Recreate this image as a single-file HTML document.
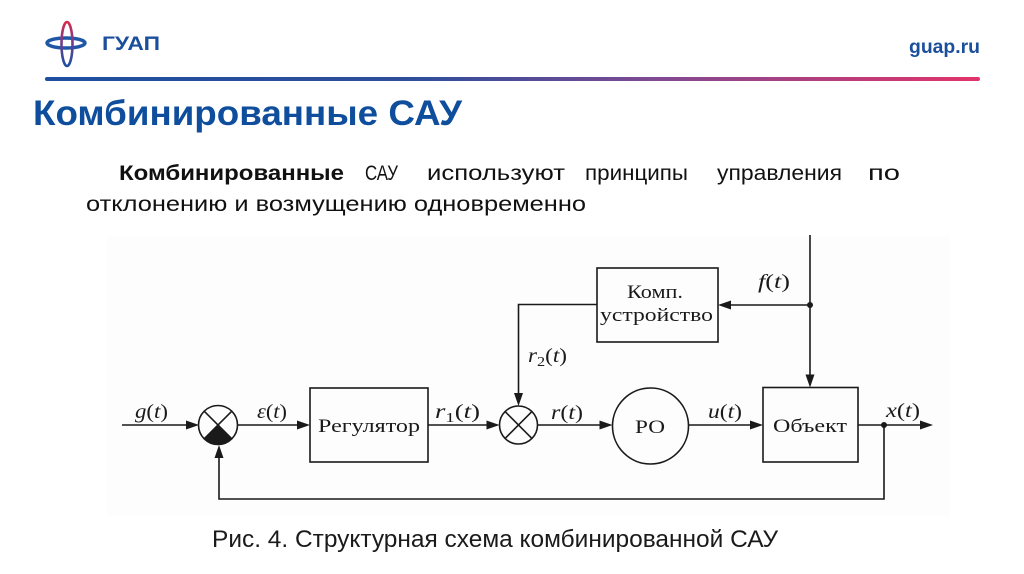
<!DOCTYPE html>
<html><head><meta charset="utf-8">
<style>
html,body{margin:0;padding:0;background:#fff;}
svg{display:block;}
.s{font-family:"Liberation Sans","DejaVu Sans",sans-serif;}
.t{font-family:"Liberation Serif","DejaVu Serif",serif;fill:#1a1a1a;}
.i{font-style:italic;}
</style></head>
<body>
<svg width="1024" height="574" viewBox="0 0 1024 574" xmlns="http://www.w3.org/2000/svg">
<defs>
<linearGradient id="hl" x1="45" y1="0" x2="980" y2="0" gradientUnits="userSpaceOnUse">
<stop offset="0" stop-color="#1d4f9e"/>
<stop offset="0.4" stop-color="#2f4e9c"/>
<stop offset="0.65" stop-color="#7f4a92"/>
<stop offset="1" stop-color="#e3336a"/>
</linearGradient>
<linearGradient id="vg" x1="0" y1="22" x2="0" y2="66" gradientUnits="userSpaceOnUse">
<stop offset="0" stop-color="#d9284f"/>
<stop offset="0.5" stop-color="#6a3f8f"/>
<stop offset="1" stop-color="#1e4fa0"/>
</linearGradient>
</defs>
<rect width="1024" height="574" fill="#fff"/>
<rect x="107" y="236" width="843" height="280" fill="#fdfdfd"/>

<!-- logo -->
<ellipse cx="66" cy="43" rx="19" ry="5" fill="none" stroke="#1f57a6" stroke-width="3.5"/>
<ellipse cx="67" cy="44" rx="5.5" ry="22" fill="none" stroke="url(#vg)" stroke-width="2.6"/>
<text class="s" x="102" y="50" font-size="19" font-weight="bold" fill="#1b4f9c" textLength="58" lengthAdjust="spacingAndGlyphs">ГУАП</text>
<text class="s" x="909" y="53" font-size="19" font-weight="bold" fill="#1b4f9c" textLength="71" lengthAdjust="spacingAndGlyphs">guap.ru</text>
<rect x="45" y="77" width="935" height="4" rx="2" fill="url(#hl)"/>

<!-- title -->
<text class="s" x="33" y="125" font-size="35" font-weight="bold" fill="#0f4e9d" textLength="429" lengthAdjust="spacingAndGlyphs">Комбинированные САУ</text>

<!-- paragraph -->
<g class="s" font-size="21" fill="#111">
<text x="119" y="180" font-weight="bold" textLength="225" lengthAdjust="spacingAndGlyphs">Комбинированные</text>
<text x="365" y="180" textLength="33" lengthAdjust="spacingAndGlyphs">САУ</text>
<text x="427" y="180" textLength="138" lengthAdjust="spacingAndGlyphs">используют</text>
<text x="585" y="180" textLength="103" lengthAdjust="spacingAndGlyphs">принципы</text>
<text x="717" y="180" textLength="125" lengthAdjust="spacingAndGlyphs">управления</text>
<text x="868" y="180" textLength="32" lengthAdjust="spacingAndGlyphs">по</text>
<text x="86" y="211" textLength="500" lengthAdjust="spacingAndGlyphs">отклонению и возмущению одновременно</text>
</g>

<!-- caption -->
<text class="s" x="212" y="547" font-size="24" fill="#1a1a1a" textLength="566" lengthAdjust="spacingAndGlyphs">Рис. 4. Структурная схема комбинированной САУ</text>

<!-- diagram -->
<g stroke="#1a1a1a" stroke-width="1.6" fill="none">
<line x1="122" y1="425" x2="187" y2="425"/>
<circle cx="218" cy="425" r="19.5"/>
<line x1="204.2" y1="411.2" x2="231.8" y2="438.8"/>
<line x1="231.8" y1="411.2" x2="204.2" y2="438.8"/>
<line x1="237.5" y1="425" x2="298" y2="425"/>
<rect x="310" y="388" width="118" height="74"/>
<line x1="428" y1="425" x2="487" y2="425"/>
<circle cx="518.5" cy="425" r="19"/>
<line x1="505.1" y1="411.6" x2="531.9" y2="438.4"/>
<line x1="531.9" y1="411.6" x2="505.1" y2="438.4"/>
<polyline points="597,304.5 518.5,304.5 518.5,394"/>
<line x1="537.5" y1="425" x2="600" y2="425"/>
<circle cx="650.5" cy="426" r="38"/>
<line x1="688.5" y1="425" x2="751" y2="425"/>
<rect x="763" y="387.5" width="95" height="74.5"/>
<line x1="858" y1="425" x2="921" y2="425"/>
<polyline points="884,425 884,499 219,499 219,457"/>
<line x1="810" y1="235" x2="810" y2="376"/>
<line x1="810" y1="305" x2="730" y2="305"/>
<rect x="597" y="268" width="121" height="74"/>
</g>
<g fill="#1a1a1a">
<path d="M218,425 L231.8,438.8 A19.5,19.5 0 0 1 204.2,438.8 Z"/>
<polygon points="199,425 186,420.5 186,429.5"/>
<polygon points="310,425 297,420.5 297,429.5"/>
<polygon points="499.5,425 486.5,420.5 486.5,429.5"/>
<polygon points="518.5,406 514,393 523,393"/>
<polygon points="612.5,425 599.5,420.5 599.5,429.5"/>
<polygon points="763,425 750,420.5 750,429.5"/>
<polygon points="933,425 920,420.5 920,429.5"/>
<polygon points="219,445 214.5,458 223.5,458"/>
<polygon points="810,387.5 805.5,374.5 814.5,374.5"/>
<polygon points="718,305 731,300.5 731,309.5"/>
<circle cx="884" cy="425" r="3"/>
<circle cx="810" cy="305" r="3"/>
</g>

<g class="t" font-size="20">
<text x="135" y="418" textLength="33" lengthAdjust="spacingAndGlyphs"><tspan class="i">g</tspan>(<tspan class="i">t</tspan>)</text>
<text x="257" y="418" textLength="30" lengthAdjust="spacingAndGlyphs"><tspan class="i">ε</tspan>(<tspan class="i">t</tspan>)</text>
<text x="435" y="418" textLength="45" lengthAdjust="spacingAndGlyphs"><tspan class="i">r</tspan><tspan font-size="14" dy="4">1</tspan><tspan dy="-4">(</tspan><tspan class="i">t</tspan>)</text>
<text x="528" y="362" textLength="39" lengthAdjust="spacingAndGlyphs"><tspan class="i">r</tspan><tspan font-size="14" dy="4">2</tspan><tspan dy="-4">(</tspan><tspan class="i">t</tspan>)</text>
<text x="551" y="419" textLength="32" lengthAdjust="spacingAndGlyphs"><tspan class="i">r</tspan>(<tspan class="i">t</tspan>)</text>
<text x="708" y="418" textLength="34" lengthAdjust="spacingAndGlyphs"><tspan class="i">u</tspan>(<tspan class="i">t</tspan>)</text>
<text x="886" y="417" textLength="34" lengthAdjust="spacingAndGlyphs"><tspan class="i">x</tspan>(<tspan class="i">t</tspan>)</text>
<text x="758" y="288" textLength="32" lengthAdjust="spacingAndGlyphs"><tspan class="i">f</tspan>(<tspan class="i">t</tspan>)</text>
</g>
<g class="t" font-size="19">
<text x="318" y="432" textLength="102" lengthAdjust="spacingAndGlyphs">Регулятор</text>
<text x="635" y="433" textLength="30" lengthAdjust="spacingAndGlyphs">РО</text>
<text x="773" y="432" textLength="74" lengthAdjust="spacingAndGlyphs">Объект</text>
<text x="627" y="298" textLength="56" lengthAdjust="spacingAndGlyphs">Комп.</text>
<text x="600" y="321" textLength="113" lengthAdjust="spacingAndGlyphs">устройство</text>
</g>
</svg>
</body></html>
